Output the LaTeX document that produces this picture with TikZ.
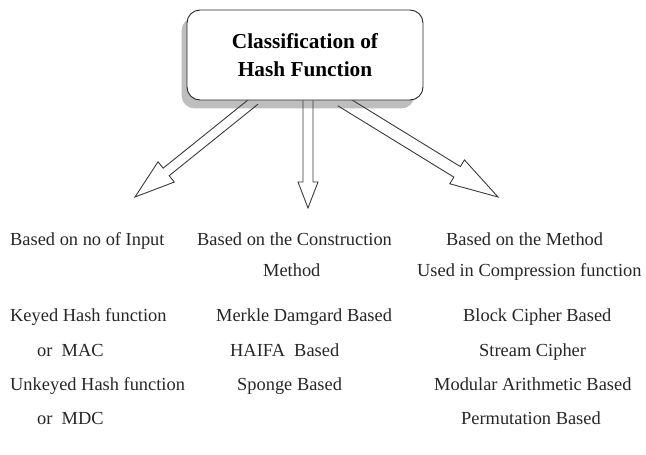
\documentclass[tikz,border=0pt]{standalone}
\usepackage{fontspec}
\setmainfont{Liberation Serif}
\usetikzlibrary{calc}

\definecolor{inkgrey}{HTML}{262626}
\definecolor{shadowgrey}{HTML}{BEBEBE}
\definecolor{linegrey}{HTML}{3A3A3A}

% hollow block arrow: start, tip, shaft half-width, head half-width, head length
\newcommand\hollowarrow[5]{%
  \coordinate (hb) at ($(#2)!#5!(#1)$);
  \draw[arrowline]
    ($(#1)!#3!90:(#2)$) -- ($(hb)!#3!90:(#2)$) -- ($(hb)!#4!90:(#2)$) --
    (#2) --
    ($(hb)!#4!-90:(#2)$) -- ($(hb)!#3!-90:(#2)$) -- ($(#1)!#3!-90:(#2)$);
}

\begin{document}
\begin{tikzpicture}[x=1pt,y=-1pt,
  arrowline/.style={draw=linegrey,line width=0.9pt,line join=miter},
  titlebox/.style={draw=inkgrey,line width=0.9pt,fill=white,rounded corners=13pt,
    minimum width=236pt,minimum height=90pt,align=center,text=black,
    font=\bfseries\fontsize{21.3}{28}\selectfont},
  label/.style={anchor=base west,inner sep=0pt,text=inkgrey,
    font=\fontsize{18.4}{22}\selectfont}]
\useasboundingbox (0,0) rectangle (646,455);

% title box with its shadow
\path (305,55) node[titlebox,draw=none,fill=none,text=white] (title) {Classification of\\Hash Function};
\fill[shadowgrey,rounded corners=13pt] ($(title.south west)+(-5,8)$) rectangle ($(title.north east)+(-9,8)$);

% free ends of the three arrows
\coordinate (tipL) at (135,197);
\coordinate (tipM) at (308,208);
\coordinate (tipR) at (498,197);
\coordinate (startL) at ($(title.south)+(-50,0)$);
\coordinate (startM) at ($(title.south)+(3,0)$);
\coordinate (startR) at ($(title.south)+(36,0)$);

\hollowarrow{startL}{tipL}{4.8pt}{13pt}{40pt}
\hollowarrow{startM}{tipM}{5pt}{10pt}{26pt}
\hollowarrow{startR}{tipR}{6.2pt}{14pt}{48pt}

\node[titlebox] at (title) {Classification of\\Hash Function};

% first column
\node[label] (a1) at (10,245) {Based on no of Input};
\node[label] (a2) at (10,321) {Keyed Hash function};
\node[label] (a3) at (37,356) {or\ \ MAC};
\node[label] (a4) at (10,390) {Unkeyed Hash function};
\node[label] (a5) at (37,424) {or\ \ MDC};

% second column
\node[label] (b1) at (197,245) {Based on the Construction};
\node[label] (b2) at (263,276) {Method};
\node[label] (b3) at (216,321) {Merkle Damgard Based};
\node[label] (b4) at (230,356) {HAIFA\ \ Based};
\node[label] (b5) at (237,390) {Sponge Based};

% third column
\node[label] (c1) at (446,245) {Based on the Method};
\node[label] (c2) at (417,276) {Used in Compression function};
\node[label] (c3) at (463,321) {Block Cipher Based};
\node[label] (c4) at (479,356) {Stream Cipher};
\node[label] (c5) at (434,390) {Modular Arithmetic Based};
\node[label] (c6) at (461,424) {Permutation Based};
\end{tikzpicture}
\end{document}
